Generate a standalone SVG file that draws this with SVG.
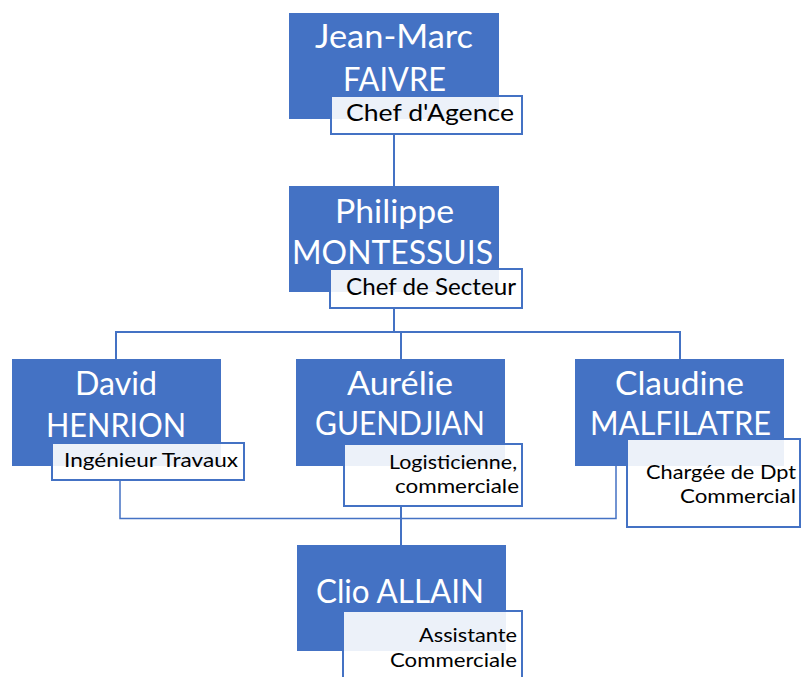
<svg xmlns="http://www.w3.org/2000/svg" width="801" height="677" viewBox="0 0 801 677">
<style>
.box{fill:#4472c4}
.lbl{fill:#ffffff;fill-opacity:0.9;stroke:#4472c4;stroke-width:2}
.name{font-family:Lato,"Liberation Sans",sans-serif;font-size:33px;fill:#ffffff}
.role{font-family:Lato,"Liberation Sans",sans-serif;font-size:20px;fill:#000000}
.role2{font-family:Lato,"Liberation Sans",sans-serif;font-size:24px;fill:#000000}
.conn{fill:none;stroke:#4472c4;stroke-width:2}
.conn2{fill:none;stroke:#4472c4;stroke-width:1.5}
</style>
<rect width="801" height="677" fill="#ffffff"/>
<g id="connectors">
<line class="conn" x1="394" y1="134" x2="394" y2="186"/>
<line class="conn" x1="394" y1="308" x2="394" y2="332"/>
<polyline class="conn" points="116,359 116,332 680,332 680,359"/>
<line class="conn" x1="401" y1="332" x2="401" y2="359"/>
<polyline class="conn2" points="120,480 120,518.5 616,518.5 616,466"/>
<line class="conn" x1="401" y1="506" x2="401" y2="545"/>
</g>
<g id="node-jean-marc-faivre">
<rect class="box" x="289" y="13" width="210" height="106"/>
<rect class="lbl" x="331" y="96" width="191" height="38"/>
<text class="name" x="315" y="48" textLength="158" lengthAdjust="spacingAndGlyphs">Jean-Marc</text>
<text class="name" x="343" y="91" textLength="103" lengthAdjust="spacingAndGlyphs">FAIVRE</text>
<text class="role2" x="346" y="121" textLength="168" lengthAdjust="spacingAndGlyphs">Chef d'Agence</text>
</g>
<g id="node-philippe-montessuis">
<rect class="box" x="289" y="186" width="210" height="106"/>
<rect class="lbl" x="330" y="269" width="192" height="39"/>
<text class="name" x="335" y="223" textLength="119" lengthAdjust="spacingAndGlyphs">Philippe</text>
<text class="name" x="292" y="264" textLength="201" lengthAdjust="spacingAndGlyphs">MONTESSUIS</text>
<text class="role2" x="346" y="295" textLength="170" lengthAdjust="spacingAndGlyphs">Chef de Secteur</text>
</g>
<g id="node-david-henrion">
<rect class="box" x="12" y="359" width="209" height="107"/>
<rect class="lbl" x="52" y="443" width="192" height="37"/>
<text class="name" x="75" y="395" textLength="82" lengthAdjust="spacingAndGlyphs">David</text>
<text class="name" x="46" y="437" textLength="140" lengthAdjust="spacingAndGlyphs">HENRION</text>
<text class="role" x="64" y="467" textLength="174" lengthAdjust="spacingAndGlyphs">Ingénieur Travaux</text>
</g>
<g id="node-aurelie-guendjian">
<rect class="box" x="296" y="359" width="209" height="107"/>
<rect class="lbl" x="344" y="444" width="178" height="62"/>
<text class="name" x="347" y="395" textLength="106" lengthAdjust="spacingAndGlyphs">Aurélie</text>
<text class="name" x="315" y="435" textLength="170" lengthAdjust="spacingAndGlyphs">GUENDJIAN</text>
<text class="role" x="389" y="469" textLength="128" lengthAdjust="spacingAndGlyphs">Logisticienne,</text>
<text class="role" x="395" y="493" textLength="124" lengthAdjust="spacingAndGlyphs">commerciale</text>
</g>
<g id="node-claudine-malfilatre">
<rect class="box" x="575" y="359" width="209" height="107"/>
<rect class="lbl" x="627" y="439" width="173" height="88"/>
<text class="name" x="615" y="395" textLength="129" lengthAdjust="spacingAndGlyphs">Claudine</text>
<text class="name" x="590" y="435" textLength="181" lengthAdjust="spacingAndGlyphs">MALFILATRE</text>
<text class="role" x="646" y="479" textLength="150" lengthAdjust="spacingAndGlyphs">Chargée de Dpt</text>
<text class="role" x="680" y="503" textLength="116" lengthAdjust="spacingAndGlyphs">Commercial</text>
</g>
<g id="node-clio-allain">
<rect class="box" x="297" y="545" width="209" height="106"/>
<rect class="lbl" x="343" y="611" width="179" height="80"/>
<text class="name" x="316" y="603" textLength="168" lengthAdjust="spacingAndGlyphs">Clio ALLAIN</text>
<text class="role" x="419" y="642" textLength="98" lengthAdjust="spacingAndGlyphs">Assistante</text>
<text class="role" x="390" y="667" textLength="127" lengthAdjust="spacingAndGlyphs">Commerciale</text>
</g>
</svg>
